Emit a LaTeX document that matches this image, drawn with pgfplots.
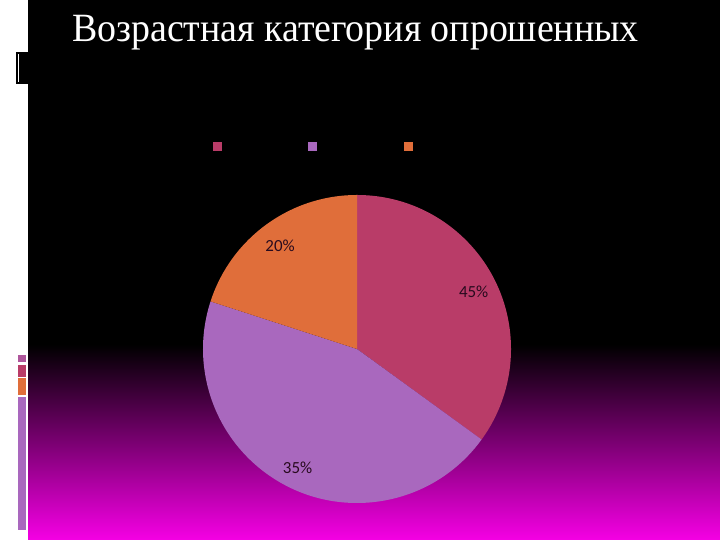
\documentclass[border=0pt]{standalone}
\usepackage{pgfplots}
\pgfplotsset{compat=1.18}
\usepackage{pgfplotstable}
\usepackage{fontspec}
\setmainfont{Liberation Serif}
\newfontfamily\lblfont{Carlito}
\definecolor{cRed}{RGB}{185,60,104}
\definecolor{cPurple}{RGB}{169,104,190}
\definecolor{cOrange}{RGB}{224,110,58}
\definecolor{bgMag}{RGB}{245,0,228}
\definecolor{lblcol}{RGB}{40,10,30}

% slice values (share of respondents) and the label printed on each slice
\pgfplotstableread{
value label
35 45
45 35
20 20
}\piedata
\pgfplotstablegetelem{0}{value}\of\piedata \let\vA\pgfplotsretval
\pgfplotstablegetelem{1}{value}\of\piedata \let\vB\pgfplotsretval
\pgfplotstablegetelem{2}{value}\of\piedata \let\vC\pgfplotsretval
\pgfplotstablegetelem{0}{label}\of\piedata \let\lA\pgfplotsretval
\pgfplotstablegetelem{1}{label}\of\piedata \let\lB\pgfplotsretval
\pgfplotstablegetelem{2}{label}\of\piedata \let\lC\pgfplotsretval
\pgfmathsetmacro\sA{90}
\pgfmathsetmacro\eA{\sA-3.6*\vA}
\pgfmathsetmacro\eB{\eA-3.6*\vB}
\pgfmathsetmacro\eC{\eB-3.6*\vC}
\pgfmathsetmacro\mA{(\sA+\eA)/2}
\pgfmathsetmacro\mB{(\eA+\eB)/2}
\pgfmathsetmacro\mC{(\eB+\eC)/2}

\begin{document}
\begin{tikzpicture}[x=1bp,y=1bp]
\useasboundingbox (0,0) rectangle (720,540);
\fill[white] (0,0) rectangle (720,540);
\fill[black] (28,195) rectangle (720,540);
\shade[top color=black, bottom color=bgMag] (28,0) rectangle (720,195.5);
% left strip decorations
\fill[black] (16,456) rectangle (28,488);
\draw[white, line width=1bp] (18.5,458) -- (18.5,486);
\fill[cPurple!60!cRed] (18,178) rectangle (26,185);
\fill[cRed] (18,163) rectangle (26,175);
\fill[cOrange] (18,145) rectangle (26,162);
\fill[cPurple] (18,10) rectangle (26,143);
% title
\node[anchor=base west, text=white, inner sep=0pt] at (72,498)
  {\scalebox{1}[1.06]{\fontsize{38}{40}\selectfont Возрастная категория опрошенных}};
% legend markers
\fill[cRed] (212.5,388.5) rectangle (221.5,397.5);
\fill[cPurple] (307.5,388.5) rectangle (316.5,397.5);
\fill[cOrange] (403.5,388.5) rectangle (412.5,397.5);
\begin{axis}[at={(357bp,191bp)}, anchor=center, scale only axis,
  width=308bp, height=308bp, xmin=-1, xmax=1, ymin=-1, ymax=1,
  hide axis, clip=false]
\fill[cRed] (axis cs:0,0) -- ++(\sA:154bp) arc[start angle=\sA, end angle=\eA, radius=154bp] -- cycle;
\fill[cPurple] (axis cs:0,0) -- ++(\eA:154bp) arc[start angle=\eA, end angle=\eB, radius=154bp] -- cycle;
\fill[cOrange] (axis cs:0,0) -- ++(\eB:154bp) arc[start angle=\eB, end angle=\eC, radius=154bp] -- cycle;
\node[text=lblcol, yshift=-2.5bp, font=\lblfont\fontsize{17}{19}\selectfont] at (axis cs:{0.85*cos(\mA)},{0.85*sin(\mA)}) {\lA\%};
\node[text=lblcol, yshift=-2.5bp, font=\lblfont\fontsize{17}{19}\selectfont] at (axis cs:{0.85*cos(\mB)},{0.85*sin(\mB)}) {\lB\%};
\node[text=lblcol, yshift=-2.5bp, font=\lblfont\fontsize{17}{19}\selectfont] at (axis cs:{0.85*cos(\mC)},{0.85*sin(\mC)}) {\lC\%};
\end{axis}
\end{tikzpicture}
\end{document}
